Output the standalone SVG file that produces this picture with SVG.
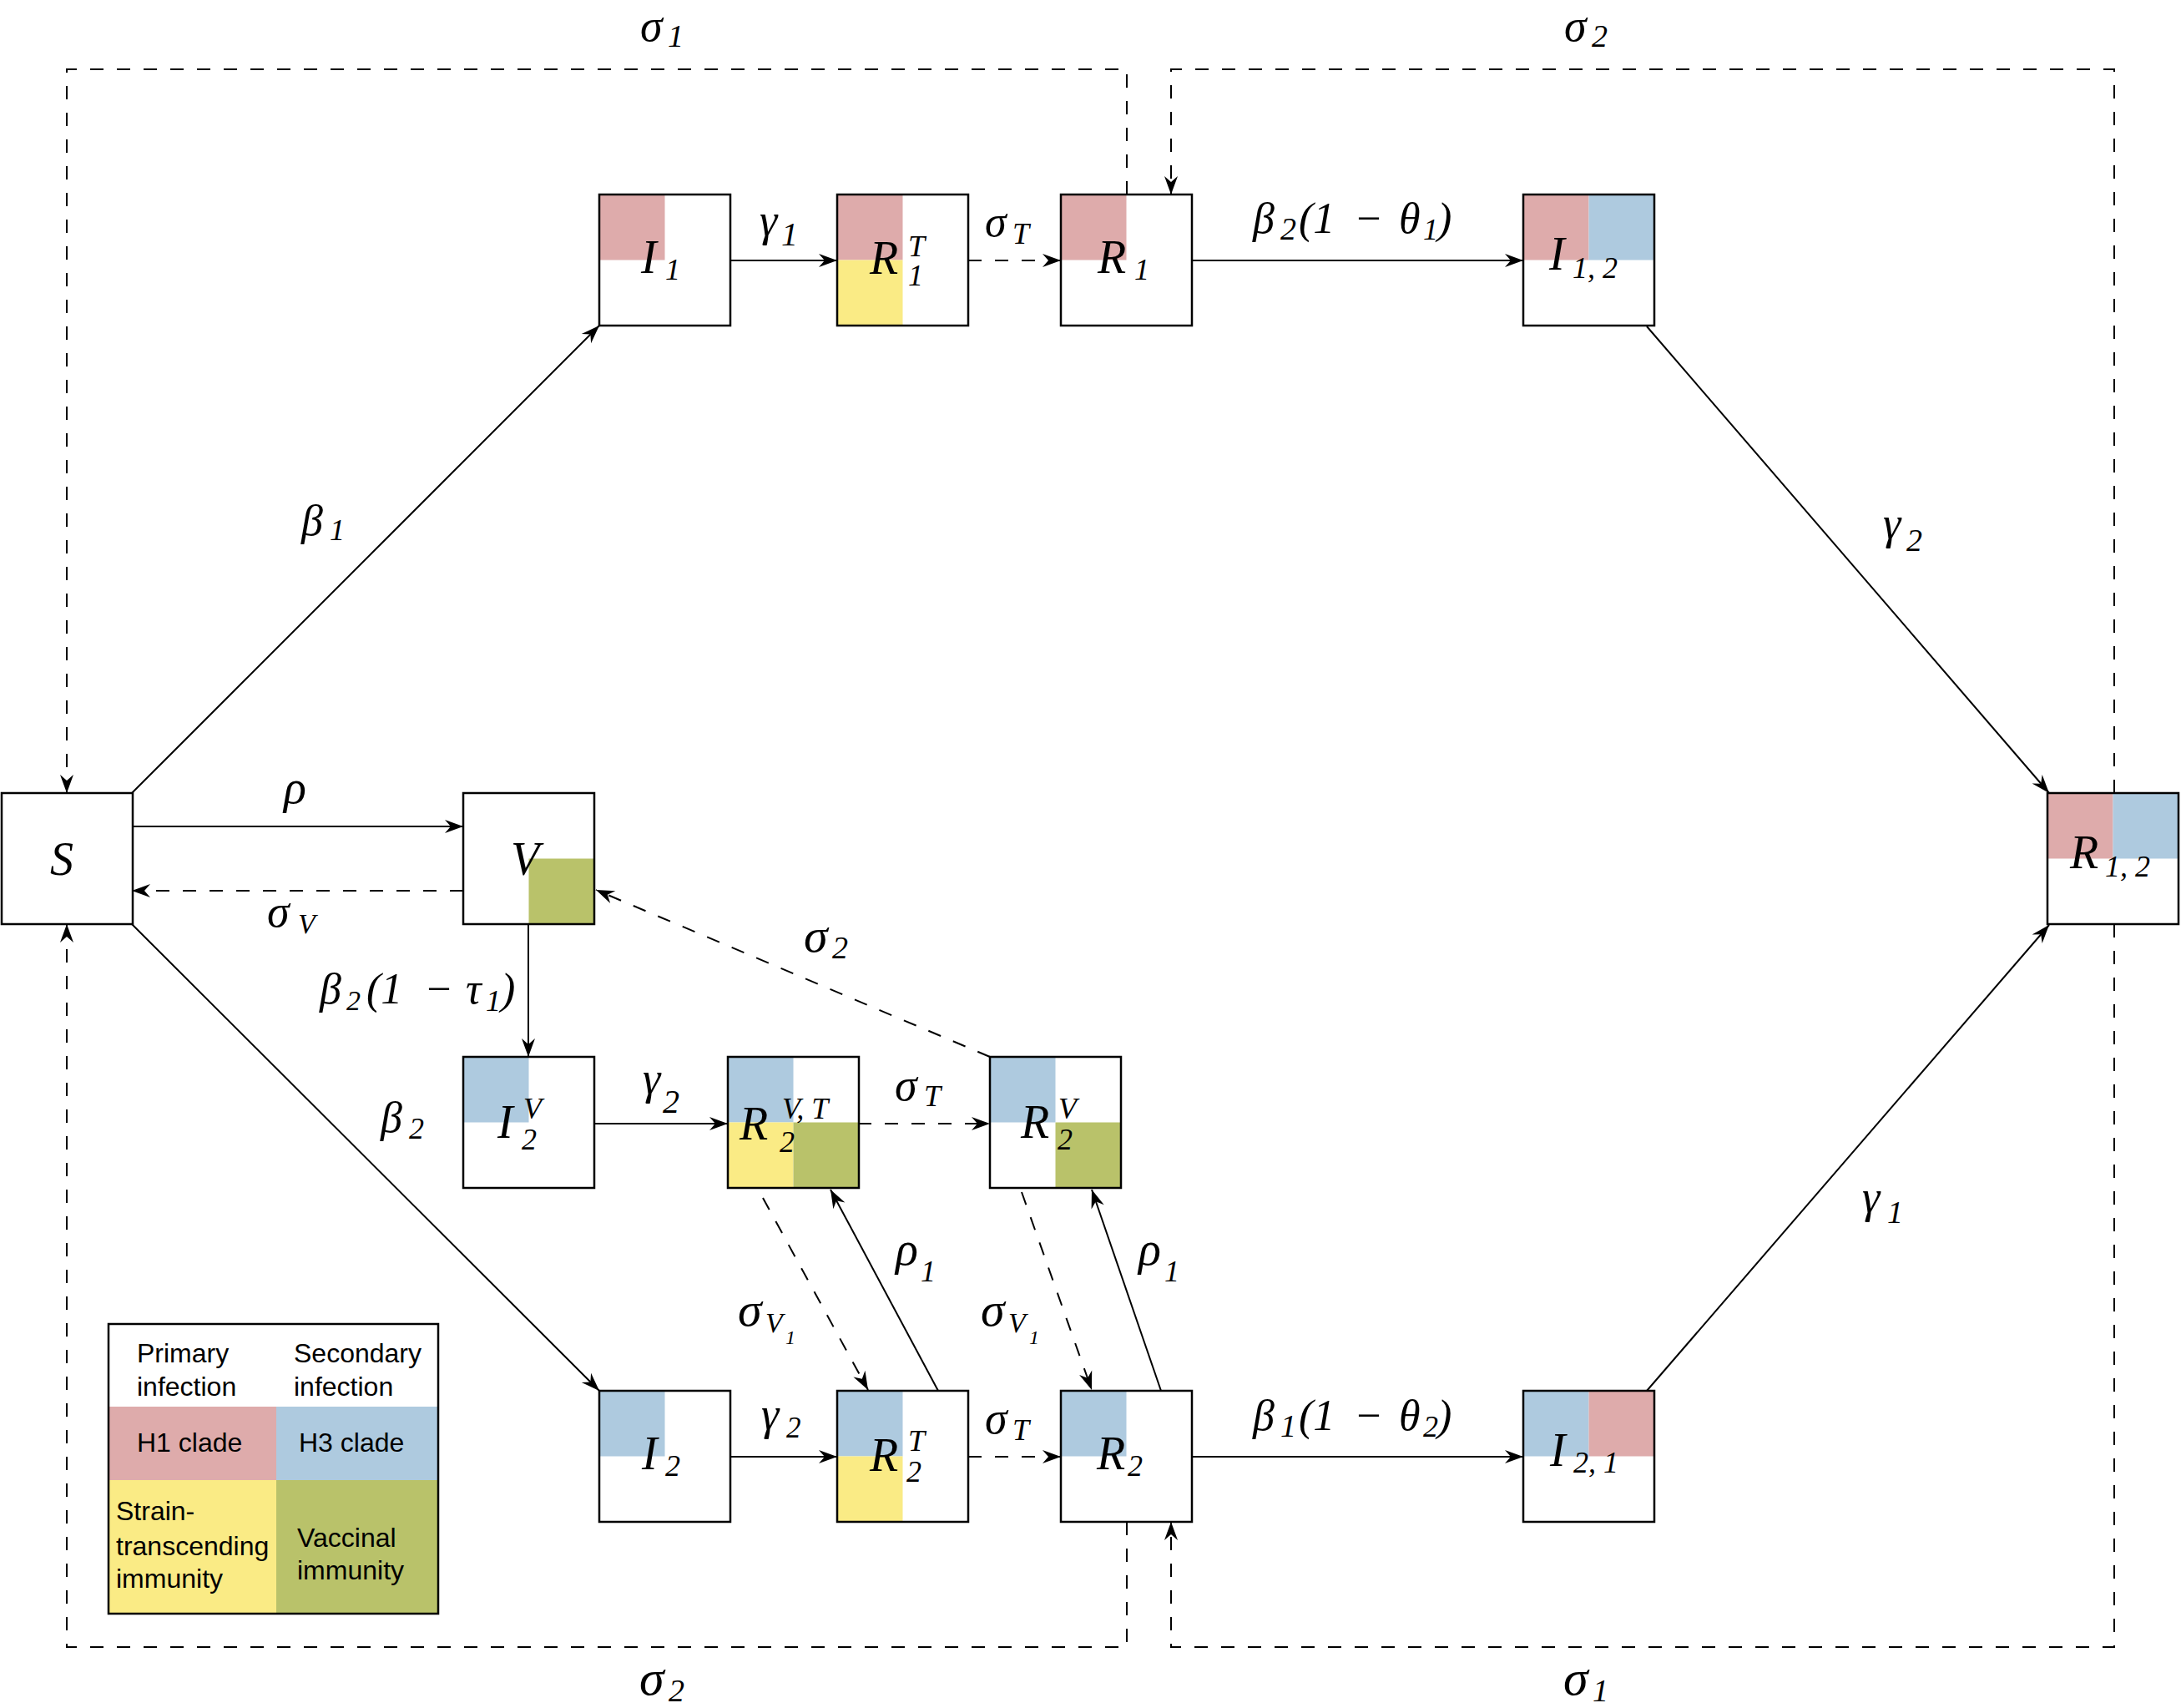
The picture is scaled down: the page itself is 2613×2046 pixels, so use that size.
<svg xmlns="http://www.w3.org/2000/svg" width="2613" height="2046" viewBox="0 0 2613 2046">
<style>
.bg{fill:#fff}
.box{fill:none;stroke:#000;stroke-width:2.5}
.h1{fill:#DEABAB}
.h3{fill:#AECADF}
.st{fill:#FAEB85}
.vc{fill:#B9C26A}
.ln{fill:none;stroke:#000;stroke-width:2}
.dl{stroke-dasharray:16 16}
.m{font-family:"Liberation Serif","Times New Roman",serif;font-style:italic;fill:#000}
.lg{font-family:"Liberation Sans",Arial,sans-serif;font-size:32px;fill:#000}
</style>
<defs>
<marker id="ah" markerUnits="userSpaceOnUse" orient="auto" viewBox="-24 -10 26 20" markerWidth="26" markerHeight="20" refX="0" refY="0">
<path d="M0,0 L-22,-8 L-15,0 L-22,8 Z" fill="#000"/>
</marker>
</defs>
<rect width="2613" height="2046" fill="#fff"/>

<g id="connectors">
<path class="ln" d="M158,950 L718,390" marker-end="url(#ah)"/>
<path class="ln" d="M158,1107 L718,1666" marker-end="url(#ah)"/>
<path class="ln" d="M158,990 L555,990" marker-end="url(#ah)"/>
<path class="ln dl" d="M555,1067 L158,1067" marker-end="url(#ah)"/>
<path class="ln" d="M633,1107 L633,1266" marker-end="url(#ah)"/>
<path class="ln" d="M712,1346 L872,1346" marker-end="url(#ah)"/>
<path class="ln dl" d="M1028,1346 L1186,1346" marker-end="url(#ah)"/>
<path class="ln dl" d="M1186,1266 L714,1066" marker-end="url(#ah)"/>
<path class="ln" d="M875,312 L1003,312" marker-end="url(#ah)"/>
<path class="ln dl" d="M1160,312 L1271,312" marker-end="url(#ah)"/>
<path class="ln" d="M1428,312 L1825,312" marker-end="url(#ah)"/>
<path class="ln" d="M1973,391 L2455,950" marker-end="url(#ah)"/>
<path class="ln" d="M1973,1666 L2455,1108" marker-end="url(#ah)"/>
<path class="ln" d="M875,1745 L1003,1745" marker-end="url(#ah)"/>
<path class="ln dl" d="M1160,1745 L1271,1745" marker-end="url(#ah)"/>
<path class="ln" d="M1428,1745 L1825,1745" marker-end="url(#ah)"/>
<path class="ln" d="M1124,1666 L995,1425" marker-end="url(#ah)"/>
<path class="ln dl" d="M914,1435 L1040,1665" marker-end="url(#ah)"/>
<path class="ln" d="M1391,1666 L1308,1425" marker-end="url(#ah)"/>
<path class="ln dl" d="M1224,1428 L1308,1665" marker-end="url(#ah)"/>
<path class="ln dl" d="M1350,233 L1350,83 L80,83 L80,950" marker-end="url(#ah)"/>
<path class="ln dl" d="M2533,950 L2533,83 L1403,83 L1403,233" marker-end="url(#ah)"/>
<path class="ln dl" d="M1350,1823 L1350,1973 L80,1973 L80,1107" marker-end="url(#ah)"/>
<path class="ln dl" d="M2533,1107 L2533,1973 L1403,1973 L1403,1823" marker-end="url(#ah)"/>
</g>

<g id="edge-labels">
<text class="m"><tspan x="767" y="49" font-size="54">σ</tspan><tspan x="800" y="56" font-size="38">1</tspan></text>
<text class="m"><tspan x="1874" y="49" font-size="54">σ</tspan><tspan x="1907" y="56" font-size="38">2</tspan></text>
<text class="m"><tspan x="766" y="2030" font-size="60">σ</tspan><tspan x="801" y="2038" font-size="38">2</tspan></text>
<text class="m"><tspan x="1873" y="2030" font-size="60">σ</tspan><tspan x="1908" y="2038" font-size="38">1</tspan></text>
<text class="m"><tspan x="361" y="641" font-size="52">β</tspan><tspan x="395" y="647" font-size="36">1</tspan></text>
<text class="m"><tspan x="456" y="1356" font-size="52">β</tspan><tspan x="490" y="1364" font-size="36">2</tspan></text>
<text class="m"><tspan x="340" y="962" font-size="56">ρ</tspan></text>
<text class="m"><tspan x="320" y="1110" font-size="54">σ</tspan><tspan x="357" y="1118" font-size="34">V</tspan></text>
<text class="m"><tspan x="383" y="1202" font-size="52">β</tspan><tspan x="415" y="1210" font-size="34">2</tspan><tspan x="439" y="1202" font-size="52">(1</tspan><tspan x="508" y="1202" font-size="52">−</tspan><tspan x="558" y="1202" font-size="52">τ</tspan><tspan x="582" y="1211" font-size="36">1</tspan><tspan x="600" y="1202" font-size="52">)</tspan></text>
<text class="m"><tspan x="1501" y="279" font-size="52">β</tspan><tspan x="1534" y="287" font-size="38">2</tspan><tspan x="1556" y="279" font-size="52">(1</tspan><tspan x="1622" y="279" font-size="52">−</tspan><tspan x="1676" y="279" font-size="52">θ</tspan><tspan x="1705" y="287" font-size="36">1</tspan><tspan x="1722" y="279" font-size="52">)</tspan></text>
<text class="m"><tspan x="1501" y="1713" font-size="52">β</tspan><tspan x="1534" y="1721" font-size="38">1</tspan><tspan x="1556" y="1713" font-size="52">(1</tspan><tspan x="1622" y="1713" font-size="52">−</tspan><tspan x="1676" y="1713" font-size="52">θ</tspan><tspan x="1705" y="1721" font-size="36">2</tspan><tspan x="1722" y="1713" font-size="52">)</tspan></text>
<text class="m"><tspan x="910" y="282" font-size="54">γ</tspan><tspan x="936" y="294" font-size="40">1</tspan></text>
<text class="m"><tspan x="1180" y="283" font-size="52">σ</tspan><tspan x="1213" y="292" font-size="36">T</tspan></text>
<text class="m"><tspan x="770" y="1310" font-size="54">γ</tspan><tspan x="794" y="1333" font-size="40">2</tspan></text>
<text class="m"><tspan x="1072" y="1318" font-size="54">σ</tspan><tspan x="1107" y="1325" font-size="36">T</tspan></text>
<text class="m"><tspan x="963" y="1140" font-size="58">σ</tspan><tspan x="997" y="1148" font-size="38">2</tspan></text>
<text class="m"><tspan x="912" y="1712" font-size="54">γ</tspan><tspan x="942" y="1722" font-size="35">2</tspan></text>
<text class="m"><tspan x="1180" y="1717" font-size="54">σ</tspan><tspan x="1213" y="1725" font-size="36">T</tspan></text>
<text class="m"><tspan x="2256" y="645" font-size="54">γ</tspan><tspan x="2284" y="660" font-size="38">2</tspan></text>
<text class="m"><tspan x="2231" y="1452" font-size="54">γ</tspan><tspan x="2261" y="1465" font-size="38">1</tspan></text>
<text class="m"><tspan x="1073" y="1515" font-size="56">ρ</tspan><tspan x="1103" y="1535" font-size="36">1</tspan></text>
<text class="m"><tspan x="1364" y="1515" font-size="56">ρ</tspan><tspan x="1395" y="1535" font-size="36">1</tspan></text>
<text class="m"><tspan x="884" y="1588" font-size="58">σ</tspan><tspan x="917" y="1596" font-size="34">V</tspan><tspan x="941" y="1610" font-size="24">1</tspan></text>
<text class="m"><tspan x="1175" y="1588" font-size="58">σ</tspan><tspan x="1208" y="1596" font-size="34">V</tspan><tspan x="1233" y="1610" font-size="24">1</tspan></text>
</g>

<g id="S">
<rect class="bg" x="2" y="950" width="157" height="157"/>
<rect class="box" x="2" y="950" width="157" height="157"/>
<text class="m" x="60" y="1048" font-size="56">S</text>
</g>
<g id="V">
<rect class="bg" x="555" y="950" width="157" height="157"/>
<rect class="vc" x="633.5" y="1028.5" width="78.5" height="78.5"/>
<rect class="box" x="555" y="950" width="157" height="157"/>
<text class="m" x="612" y="1048" font-size="56">V</text>
</g>
<g id="I1">
<rect class="bg" x="718" y="233" width="157" height="157"/>
<rect class="h1" x="718" y="233" width="78.5" height="78.5"/>
<rect class="box" x="718" y="233" width="157" height="157"/>
<text class="m"><tspan x="768" y="327" font-size="56">I</tspan><tspan x="797" y="335" font-size="36">1</tspan></text>
</g>
<g id="R1T">
<rect class="bg" x="1003" y="233" width="157" height="157"/>
<rect class="h1" x="1003" y="233" width="78.5" height="78.5"/>
<rect class="st" x="1003" y="311.5" width="78.5" height="78.5"/>
<rect class="box" x="1003" y="233" width="157" height="157"/>
<text class="m"><tspan x="1042" y="328" font-size="56">R</tspan><tspan x="1088" y="307" font-size="36">T</tspan><tspan x="1088" y="342" font-size="36">1</tspan></text>
</g>
<g id="R1">
<rect class="bg" x="1271" y="233" width="157" height="157"/>
<rect class="h1" x="1271" y="233" width="78.5" height="78.5"/>
<rect class="box" x="1271" y="233" width="157" height="157"/>
<text class="m"><tspan x="1315" y="327" font-size="56">R</tspan><tspan x="1359" y="335" font-size="36">1</tspan></text>
</g>
<g id="I12">
<rect class="bg" x="1825" y="233" width="157" height="157"/>
<rect class="h1" x="1825" y="233" width="78.5" height="78.5"/>
<rect class="h3" x="1903.5" y="233" width="78.5" height="78.5"/>
<rect class="box" x="1825" y="233" width="157" height="157"/>
<text class="m"><tspan x="1856" y="323" font-size="56">I</tspan><tspan x="1884" y="333" font-size="36">1, 2</tspan></text>
</g>
<g id="R12">
<rect class="bg" x="2453" y="950" width="157" height="157"/>
<rect class="h1" x="2453" y="950" width="78.5" height="78.5"/>
<rect class="h3" x="2531.5" y="950" width="78.5" height="78.5"/>
<rect class="box" x="2453" y="950" width="157" height="157"/>
<text class="m"><tspan x="2480" y="1040" font-size="56">R</tspan><tspan x="2522" y="1050" font-size="36">1, 2</tspan></text>
</g>
<g id="I2V">
<rect class="bg" x="555" y="1266" width="157" height="157"/>
<rect class="h3" x="555" y="1266" width="78.5" height="78.5"/>
<rect class="box" x="555" y="1266" width="157" height="157"/>
<text class="m"><tspan x="596" y="1363" font-size="56">I</tspan><tspan x="627" y="1340" font-size="36">V</tspan><tspan x="625" y="1377" font-size="36">2</tspan></text>
</g>
<g id="R2VT">
<rect class="bg" x="872" y="1266" width="157" height="157"/>
<rect class="h3" x="872" y="1266" width="78.5" height="78.5"/>
<rect class="st" x="872" y="1344.5" width="78.5" height="78.5"/>
<rect class="vc" x="950.5" y="1344.5" width="78.5" height="78.5"/>
<rect class="box" x="872" y="1266" width="157" height="157"/>
<text class="m"><tspan x="886" y="1365" font-size="56">R</tspan><tspan x="937" y="1340" font-size="36">V, T</tspan><tspan x="934" y="1380" font-size="36">2</tspan></text>
</g>
<g id="R2V">
<rect class="bg" x="1186" y="1266" width="157" height="157"/>
<rect class="h3" x="1186" y="1266" width="78.5" height="78.5"/>
<rect class="vc" x="1264.5" y="1344.5" width="78.5" height="78.5"/>
<rect class="box" x="1186" y="1266" width="157" height="157"/>
<text class="m"><tspan x="1223" y="1363" font-size="56">R</tspan><tspan x="1268" y="1340" font-size="36">V</tspan><tspan x="1267" y="1377" font-size="36">2</tspan></text>
</g>
<g id="I2">
<rect class="bg" x="718" y="1666" width="157" height="157"/>
<rect class="h3" x="718" y="1666" width="78.5" height="78.5"/>
<rect class="box" x="718" y="1666" width="157" height="157"/>
<text class="m"><tspan x="769" y="1760" font-size="56">I</tspan><tspan x="797" y="1768" font-size="36">2</tspan></text>
</g>
<g id="R2T">
<rect class="bg" x="1003" y="1666" width="157" height="157"/>
<rect class="h3" x="1003" y="1666" width="78.5" height="78.5"/>
<rect class="st" x="1003" y="1744.5" width="78.5" height="78.5"/>
<rect class="box" x="1003" y="1666" width="157" height="157"/>
<text class="m"><tspan x="1042" y="1762" font-size="56">R</tspan><tspan x="1088" y="1738" font-size="36">T</tspan><tspan x="1086" y="1775" font-size="36">2</tspan></text>
</g>
<g id="R2">
<rect class="bg" x="1271" y="1666" width="157" height="157"/>
<rect class="h3" x="1271" y="1666" width="78.5" height="78.5"/>
<rect class="box" x="1271" y="1666" width="157" height="157"/>
<text class="m"><tspan x="1314" y="1760" font-size="56">R</tspan><tspan x="1351" y="1768" font-size="36">2</tspan></text>
</g>
<g id="I21">
<rect class="bg" x="1825" y="1666" width="157" height="157"/>
<rect class="h3" x="1825" y="1666" width="78.5" height="78.5"/>
<rect class="h1" x="1903.5" y="1666" width="78.5" height="78.5"/>
<rect class="box" x="1825" y="1666" width="157" height="157"/>
<text class="m"><tspan x="1857" y="1756" font-size="56">I</tspan><tspan x="1885" y="1764" font-size="36">2, 1</tspan></text>
</g>

<g id="legend">
<rect class="bg" x="130" y="1586" width="395" height="347"/>
<rect class="h1" x="130" y="1685" width="201" height="88"/>
<rect class="h3" x="331" y="1685" width="194" height="88"/>
<rect class="st" x="130" y="1773" width="201" height="160"/>
<rect class="vc" x="331" y="1773" width="194" height="160"/>
<rect class="box" x="130" y="1586" width="395" height="347"/>
<text class="lg" x="164" y="1632">Primary</text>
<text class="lg" x="164" y="1672">infection</text>
<text class="lg" x="352" y="1632">Secondary</text>
<text class="lg" x="352" y="1672">infection</text>
<text class="lg" x="164" y="1739">H1 clade</text>
<text class="lg" x="358" y="1739">H3 clade</text>
<text class="lg" x="139" y="1821">Strain-</text>
<text class="lg" x="139" y="1863">transcending</text>
<text class="lg" x="139" y="1902">immunity</text>
<text class="lg" x="356" y="1853">Vaccinal</text>
<text class="lg" x="356" y="1892">immunity</text>
</g>
</svg>
